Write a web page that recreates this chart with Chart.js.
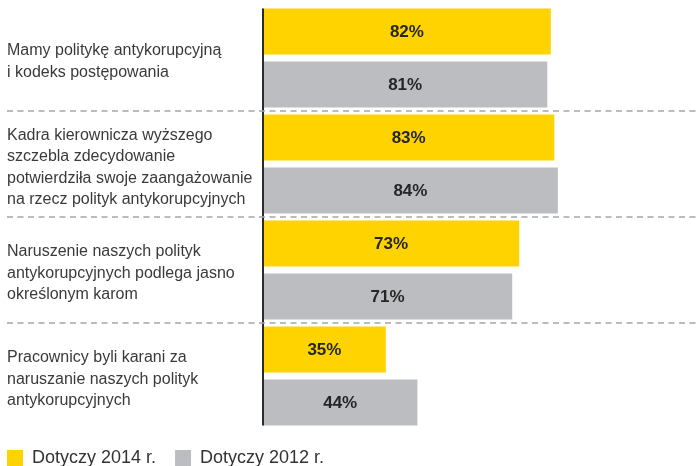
<!DOCTYPE html>
<html>
<head>
<meta charset="utf-8">
<script src="https://cdn.jsdelivr.net/npm/chart.js@4/dist/chart.umd.min.js"></script>
<style>
  html, body { margin: 0; padding: 0; background: #fff; overflow: hidden; }
  #wrap { position: relative; width: 696px; height: 466px; }
</style>
</head>
<body>
<div id="wrap"><canvas id="c"></canvas></div>
<script>
const categories = [
  ["Mamy politykę antykorupcyjną", "i kodeks postępowania"],
  ["Kadra kierownicza wyższego", "szczebla zdecydowanie", "potwierdziła swoje zaangażowanie", "na rzecz polityk antykorupcyjnych"],
  ["Naruszenie naszych polityk", "antykorupcyjnych podlega jasno", "określonym karom"],
  ["Pracownicy byli karani za", "naruszanie naszych polityk", "antykorupcyjnych"]
];
const seriesNames = ["Dotyczy 2014 r.", "Dotyczy 2012 r."];
const values2014 = [82, 83, 73, 35];
const values2012 = [81, 84, 71, 44];

const FONT = "'Liberation Sans', Arial, sans-serif";
const YELLOW = "#FED300";
const GRAY = "#BCBDC0";

const separators = {
  id: 'separators',
  afterDraw(chart) {
    const ctx = chart.ctx;
    const y = chart.scales.y;
    ctx.save();
    ctx.strokeStyle = '#a6a6a6';
    ctx.lineWidth = 1.3;
    ctx.setLineDash([6, 4.5]);
    for (let i = 0; i < categories.length - 1; i++) {
      const py = (y.getPixelForValue(i) + y.getPixelForValue(i + 1)) / 2;
      ctx.beginPath();
      ctx.moveTo(7, py);
      ctx.lineTo(chart.width, py);
      ctx.stroke();
    }
    ctx.restore();
  }
};

const axisLine = {
  id: 'axisLine',
  afterDatasetsDraw(chart) {
    const ctx = chart.ctx;
    const m0 = chart.getDatasetMeta(0).data;
    const m1 = chart.getDatasetMeta(1).data;
    const first = m0[0], last = m1[m1.length - 1];
    const top = first.y - first.height / 2;
    const bottom = last.y + last.height / 2;
    const x = chart.scales.x.getPixelForValue(0);
    ctx.save();
    ctx.strokeStyle = '#2b2b2b';
    ctx.lineWidth = 2;
    ctx.beginPath();
    ctx.moveTo(x, top);
    ctx.lineTo(x, bottom);
    ctx.stroke();
    ctx.restore();
  }
};

const valueLabels = {
  id: 'valueLabels',
  afterDatasetsDraw(chart) {
    const ctx = chart.ctx;
    ctx.save();
    ctx.font = "bold 17px " + FONT;
    ctx.fillStyle = '#262626';
    ctx.textAlign = 'center';
    ctx.textBaseline = 'middle';
    chart.data.datasets.forEach((ds, di) => {
      chart.getDatasetMeta(di).data.forEach((bar, i) => {
        const cx = (bar.x + bar.base) / 2;
        ctx.fillText(ds.data[i] + '%', cx, bar.y + 1);
      });
    });
    ctx.restore();
  }
};

const legendPos = {
  id: 'legendPos',
  afterLayout(chart) {
    const lg = chart.legend;
    lg.left = -12;
    lg.top = 430;
  }
};

new Chart(document.getElementById('c'), {
  type: 'bar',
  data: {
    labels: categories,
    datasets: [
      { label: seriesNames[0], data: values2014, backgroundColor: YELLOW, borderWidth: 0 },
      { label: seriesNames[1], data: values2012, backgroundColor: GRAY, borderWidth: 0 }
    ]
  },
  options: {
    indexAxis: 'y',
    responsive: true,
    maintainAspectRatio: false,
    animation: false,
    categoryPercentage: 1.0,
    barPercentage: 0.868,
    layout: { padding: { top: 5, left: 7, right: 82, bottom: -10 } },
    scales: {
      x: {
        display: false,
        min: 0,
        max: 100,
        grid: { display: false }
      },
      y: {
        grid: { display: false },
        border: { display: false },
        afterFit(scale) {
          scale.width = 256;
          scale.paddingTop = 0;
          scale.paddingBottom = 0;
        },
        ticks: {
          crossAlign: 'far',
          labelOffset: 3.5,
          color: '#3a3a3a',
          font: { family: FONT, size: 16, lineHeight: 1.34 },
          autoSkip: false
        }
      }
    },
    plugins: {
      tooltip: { enabled: false },
      legend: {
        display: true,
        position: 'bottom',
        align: 'start',
        labels: {
          boxWidth: 16,
          boxHeight: 16,
          padding: 19,
          color: '#333333',
          font: { family: FONT, size: 18 }
        }
      }
    }
  },
  plugins: [separators, axisLine, valueLabels, legendPos]
});
</script>
</body>
</html>
